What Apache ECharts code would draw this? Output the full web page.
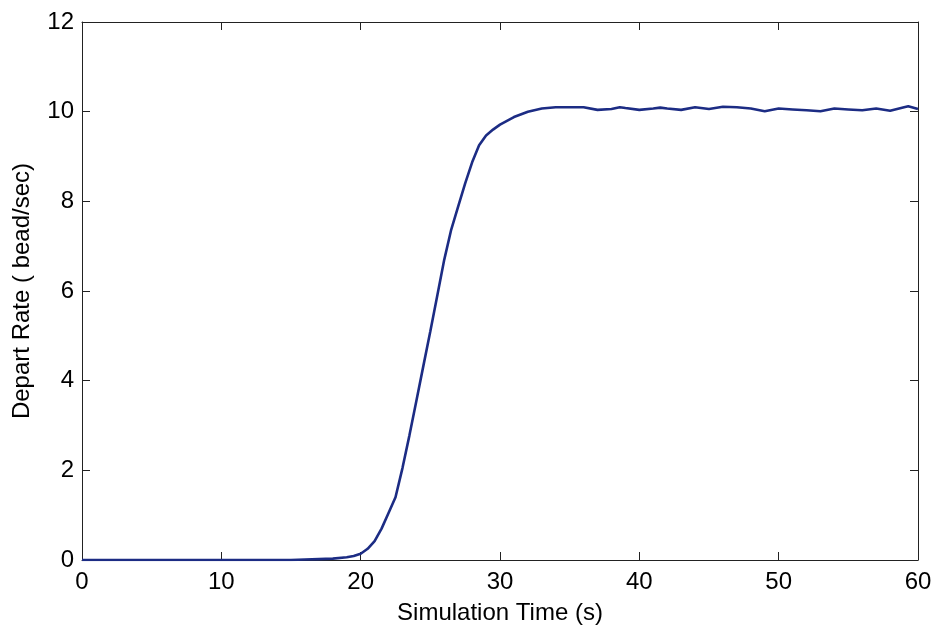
<!DOCTYPE html>
<html>
<head>
<meta charset="utf-8">
<script src="https://cdn.jsdelivr.net/npm/echarts@6/dist/echarts.min.js"></script>
<style>html,body{margin:0;padding:0;background:#fff}#c{width:936px;height:630px}</style>
</head>
<body>
<div id="c"></div>
<script>
const times = [0,5,10,15,16,17,18,19,19.5,20,20.5,21,21.5,22,22.5,23,23.5,24,24.5,25,25.5,26,26.5,27,27.5,28,28.5,29,29.5,30,31,32,33,34,35,36,37,38,38.6,39,40,41,41.5,42,43,44,45,46,47,48,49,50,51,52,53,54,55,56,57,58,59,59.3,60];
const rates = [0,0,0,0,0.01,0.02,0.03,0.06,0.09,0.14,0.25,0.42,0.7,1.05,1.4,2.05,2.78,3.55,4.33,5.1,5.9,6.7,7.37,7.89,8.4,8.87,9.25,9.47,9.6,9.71,9.88,10.0,10.07,10.1,10.1,10.1,10.04,10.06,10.1,10.08,10.04,10.07,10.09,10.07,10.04,10.1,10.06,10.11,10.1,10.07,10.01,10.07,10.05,10.03,10.01,10.07,10.05,10.03,10.07,10.02,10.1,10.12,10.06];
const xTicks = [0,10,20,30,40,50,60];
const yTicks = [0,2,4,6,8,10,12];
const xTitle = 'Simulation Time (s)';
const yTitle = 'Depart Rate ( bead/sec)';

const font = 'Liberation Sans, Arial, sans-serif';
const axisLine = {show: true, onZero: false, lineStyle: {color: '#222', width: 1}};
const tick = {show: true, inside: true, length: 8, lineStyle: {color: '#222', width: 1}};
const chart = echarts.init(document.getElementById('c'));
chart.setOption({
  animation: false,
  backgroundColor: '#fff',
  grid: {left: 82, right: 18, top: 22, bottom: 69, containLabel: false},
  xAxis: [{
    type: 'value', min: xTicks[0], max: xTicks[xTicks.length-1], interval: 10,
    position: 'bottom',
    name: xTitle, nameLocation: 'middle', nameGap: 41,
    nameTextStyle: {fontFamily: font, fontSize: 24, color: '#000'},
    axisLine: axisLine, axisTick: tick, splitLine: {show: false},
    axisLabel: {fontFamily: font, fontSize: 24, color: '#000', margin: 10}
  }, {
    type: 'value', min: xTicks[0], max: xTicks[xTicks.length-1], interval: 10,
    position: 'top',
    axisLine: axisLine, axisTick: tick, splitLine: {show: false},
    axisLabel: {show: false}
  }],
  yAxis: [{
    type: 'value', min: yTicks[0], max: yTicks[yTicks.length-1], interval: 2,
    position: 'left',
    name: yTitle, nameLocation: 'middle', nameGap: 48,
    nameTextStyle: {fontFamily: font, fontSize: 24, color: '#000'},
    axisLine: axisLine, axisTick: tick, splitLine: {show: false},
    axisLabel: {fontFamily: font, fontSize: 24, color: '#000', margin: 8}
  }, {
    type: 'value', min: yTicks[0], max: yTicks[yTicks.length-1], interval: 2,
    position: 'right',
    axisLine: axisLine, axisTick: tick, splitLine: {show: false},
    axisLabel: {show: false}
  }],
  series: [{
    type: 'line',
    xAxisIndex: 0, yAxisIndex: 0,
    data: times.map((t, i) => [t, rates[i]]),
    showSymbol: false, symbol: 'none',
    lineStyle: {color: '#1c2c84', width: 2.6},
    smooth: false
  }]
});
</script>
</body>
</html>
